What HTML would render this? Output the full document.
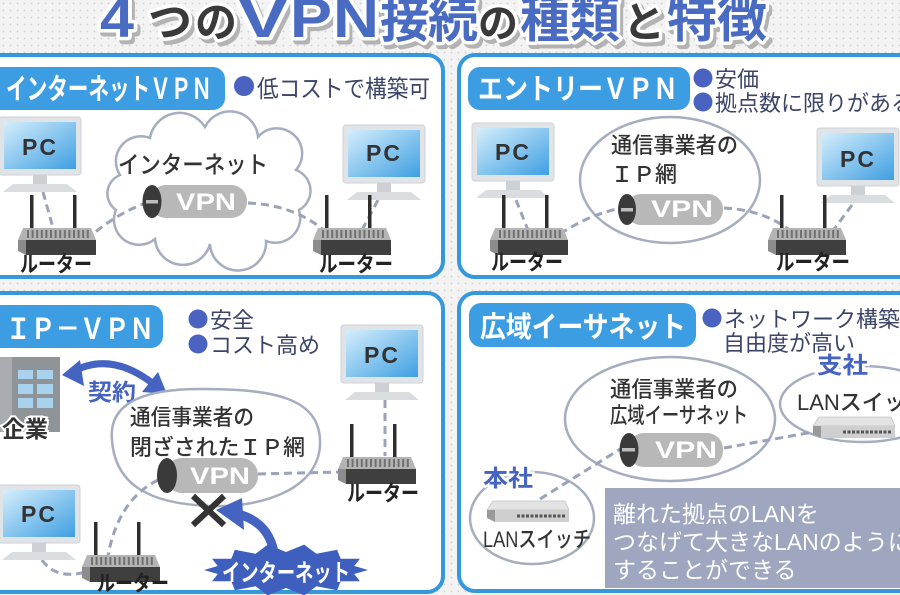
<!DOCTYPE html>
<html><head><meta charset="utf-8"><style>html,body{margin:0;padding:0;background:#f3f3f3}svg{display:block}</style></head>
<body>
<svg width="900" height="595" viewBox="0 0 900 595" xmlns="http://www.w3.org/2000/svg" font-family="'Liberation Sans','Noto Sans CJK JP',sans-serif">
<defs>
 <pattern id="dots" width="7" height="7" patternUnits="userSpaceOnUse"><rect width="7" height="7" fill="#f3f3f3"/><circle cx="3.5" cy="3.5" r="0.9" fill="#cfcfcf"/></pattern>
 <linearGradient id="scr" x1="0" y1="0" x2="1" y2="1"><stop offset="0" stop-color="#d4eefc"/><stop offset="1" stop-color="#3f9fe2"/></linearGradient>
 <g id="pc">
  <rect x="0" y="0" width="82" height="58" rx="3" fill="#e1e4e7" stroke="#cdd1d5"/>
  <rect x="5" y="5" width="72" height="47" fill="url(#scr)"/>
  <rect x="34" y="58" width="14" height="10" fill="#cdd1d5"/>
  <polygon points="14,67 68,67 78,75 4,75" fill="#dadde0"/>
 </g>
 <g id="router">
  <rect x="12" y="-33" width="3.5" height="36" fill="#2e2e2e"/>
  <rect x="55" y="-33" width="3.5" height="36" fill="#2e2e2e"/>
  <polygon points="5,0 73,0 78,12 0,12" fill="#b4b4b4"/>
  <line x1="9" y1="6" x2="71" y2="6" stroke="#707070" stroke-width="8" stroke-dasharray="2 2.6"/>
  <polygon points="0,12 8,12 8,27 0,23" fill="#8c8c8c"/>
  <rect x="8" y="12" width="70" height="15" fill="#3f3f3f"/>
 </g>
 <g id="switch">
  <polygon points="6,0 78,0 82,9 0,9" fill="#e3e3e3" stroke="#c4c4c4" stroke-width="0.8"/>
  <polygon points="0,9 8,9 8,21 0,17" fill="#9a9a9a"/>
  <rect x="8" y="9" width="74" height="12" fill="#cfcfcf"/>
  <line x1="30" y1="15" x2="78" y2="15" stroke="#555" stroke-width="3" stroke-dasharray="3 1.5"/>
 </g>
</defs>

<rect width="900" height="595" fill="url(#dots)"/>

<!-- Title -->
<g font-weight="700" transform="translate(3,4)" fill="#b3b3b3" stroke="#b3b3b3" stroke-width="7" stroke-linejoin="round">
 <text x="100" y="37" font-size="56" textLength="34" lengthAdjust="spacingAndGlyphs">4</text>
 <text x="148" y="37" font-size="44">つ</text>
 <text x="195" y="37" font-size="42">の</text>
 <text x="238" y="37" font-size="56" textLength="50" lengthAdjust="spacingAndGlyphs">V</text>
 <text x="290" y="37" font-size="56" textLength="42" lengthAdjust="spacingAndGlyphs">P</text>
 <text x="333" y="37" font-size="56" textLength="46" lengthAdjust="spacingAndGlyphs">N</text>
 <text x="380" y="37" font-size="50">接</text>
 <text x="428" y="37" font-size="50">続</text>
 <text x="478" y="37" font-size="40">の</text>
 <text x="520" y="37" font-size="50">種</text>
 <text x="570" y="37" font-size="50">類</text>
 <text x="623" y="37" font-size="42">と</text>
 <text x="667" y="37" font-size="50">特</text>
 <text x="717" y="37" font-size="50">徴</text>
</g>
<g font-weight="700" stroke="#ffffff" stroke-width="7" stroke-linejoin="round" paint-order="stroke">
 <text x="100" y="37" font-size="56" textLength="34" lengthAdjust="spacingAndGlyphs" fill="#4a6bc2">4</text>
 <text x="148" y="37" font-size="44" fill="#3a3a3a">つ</text>
 <text x="195" y="37" font-size="42" fill="#3a3a3a">の</text>
 <text x="238" y="37" font-size="56" textLength="50" lengthAdjust="spacingAndGlyphs" fill="#4a6bc2">V</text>
 <text x="290" y="37" font-size="56" textLength="42" lengthAdjust="spacingAndGlyphs" fill="#4a6bc2">P</text>
 <text x="333" y="37" font-size="56" textLength="46" lengthAdjust="spacingAndGlyphs" fill="#4a6bc2">N</text>
 <text x="380" y="37" font-size="50" fill="#4a6bc2">接</text>
 <text x="428" y="37" font-size="50" fill="#4a6bc2">続</text>
 <text x="478" y="37" font-size="40" fill="#3a3a3a">の</text>
 <text x="520" y="37" font-size="50" fill="#4a6bc2">種</text>
 <text x="570" y="37" font-size="50" fill="#4a6bc2">類</text>
 <text x="623" y="37" font-size="42" fill="#3a3a3a">と</text>
 <text x="667" y="37" font-size="50" fill="#4a6bc2">特</text>
 <text x="717" y="37" font-size="50" fill="#4a6bc2">徴</text>
</g>

<!-- Panels -->
<rect x="-20" y="55" width="463" height="222" rx="16" fill="#ffffff" stroke="#3598dc" stroke-width="4"/>
<rect x="459" y="55" width="470" height="222" rx="16" fill="#ffffff" stroke="#3598dc" stroke-width="4"/>
<rect x="-20" y="293" width="463" height="299" rx="16" fill="#ffffff" stroke="#3598dc" stroke-width="4"/>
<rect x="459" y="293" width="470" height="298" rx="16" fill="#ffffff" stroke="#3598dc" stroke-width="4"/>

<!-- ===== Panel 1 ===== -->
<rect x="-20" y="67" width="245" height="43" rx="12" fill="#3d9de3"/>
<text x="6" y="99" font-size="29" font-weight="700" fill="#ffffff" textLength="206" lengthAdjust="spacingAndGlyphs">インターネットＶＰＮ</text>
<circle cx="244" cy="86" r="10" fill="#4a63c0"/>
<text x="257" y="97" font-size="24" fill="#3c4468" textLength="173" lengthAdjust="spacingAndGlyphs">低コストで構築可</text>

<path d="M120 175 A25 25 0 0 1 150 138 A30 30 0 0 1 205 127 A28 28 0 0 1 258 137 A25 25 0 0 1 296 170 A22 22 0 0 1 299 210 A25 25 0 0 1 266 241 A28 28 0 0 1 210 244 A28 28 0 0 1 155 239 A25 25 0 0 1 116 210 A20 20 0 0 1 120 175 Z" fill="#ffffff" stroke="#a6adc0" stroke-width="2.5"/>
<text x="118" y="173" font-size="24" font-weight="500" fill="#333" textLength="150" lengthAdjust="spacingAndGlyphs">インターネット</text>

<g fill="none" stroke="#9ba3ba" stroke-width="3" stroke-dasharray="8 5">
 <path d="M43 192 L53 228"/>
 <path d="M86 240 Q115 214 146 203"/>
 <path d="M248 203 Q295 205 326 232"/>
 <path d="M378 200 L362 230"/>
</g>
<rect x="150" y="185" width="97" height="33" rx="16" fill="#b8b8b8"/>
<ellipse cx="152" cy="201.5" rx="9.5" ry="16.5" fill="#3a3a3a"/>
<rect x="146" y="200" width="12" height="3.5" fill="#bdbdbd"/>
<text x="176" y="210" font-size="24" font-weight="700" fill="#ffffff" textLength="60" lengthAdjust="spacingAndGlyphs">VPN</text>

<use href="#pc" x="-1" y="117"/>
<text x="40" y="155" font-size="23" font-weight="700" fill="#333" text-anchor="middle" letter-spacing="2">PC</text>
<use href="#router" x="18" y="228"/>
<text x="20" y="272" font-size="22" font-weight="700" fill="#222" textLength="72" lengthAdjust="spacingAndGlyphs">ルーター</text>

<use href="#pc" x="343" y="125"/>
<text x="384" y="161" font-size="23" font-weight="700" fill="#333" text-anchor="middle" letter-spacing="2">PC</text>
<use href="#router" x="313" y="228"/>
<text x="319" y="272" font-size="22" font-weight="700" fill="#222" textLength="74" lengthAdjust="spacingAndGlyphs">ルーター</text>

<!-- ===== Panel 2 ===== -->
<rect x="468" y="67" width="222" height="43" rx="12" fill="#3d9de3"/>
<text x="478" y="99" font-size="29" font-weight="700" fill="#ffffff" textLength="200" lengthAdjust="spacingAndGlyphs">エントリーＶＰＮ</text>
<circle cx="703" cy="78" r="9.5" fill="#4a63c0"/>
<text x="715" y="87" font-size="22" fill="#3c4468">安価</text>
<circle cx="703" cy="102" r="9.5" fill="#4a63c0"/>
<text x="715" y="111" font-size="22" fill="#3c4468">拠点数に限りがある</text>

<ellipse cx="670" cy="180" rx="90" ry="63" fill="#ffffff" stroke="#a6adc0" stroke-width="2.5"/>
<text x="611" y="153" font-size="22" font-weight="500" fill="#333" textLength="127" lengthAdjust="spacingAndGlyphs">通信事業者の</text>
<text x="611" y="182" font-size="22" font-weight="500" fill="#333" textLength="66" lengthAdjust="spacingAndGlyphs">ＩＰ網</text>

<g fill="none" stroke="#9ba3ba" stroke-width="3" stroke-dasharray="8 5">
 <path d="M516 200 L528 230"/>
 <path d="M560 234 Q590 214 622 208"/>
 <path d="M724 208 Q765 210 792 232"/>
 <path d="M852 205 L832 232"/>
</g>
<rect x="626" y="194" width="97" height="31" rx="15" fill="#b8b8b8"/>
<ellipse cx="627" cy="209.5" rx="9" ry="15.5" fill="#3a3a3a"/>
<rect x="621" y="208" width="12" height="3.5" fill="#bdbdbd"/>
<text x="651" y="217" font-size="24" font-weight="700" fill="#ffffff" textLength="62" lengthAdjust="spacingAndGlyphs">VPN</text>

<use href="#pc" x="472" y="123"/>
<text x="513" y="160" font-size="23" font-weight="700" fill="#333" text-anchor="middle" letter-spacing="2">PC</text>
<use href="#router" x="490" y="228"/>
<text x="491" y="270" font-size="22" font-weight="700" fill="#222" textLength="72" lengthAdjust="spacingAndGlyphs">ルーター</text>

<use href="#pc" x="817" y="128"/>
<text x="858" y="167" font-size="23" font-weight="700" fill="#333" text-anchor="middle" letter-spacing="2">PC</text>
<use href="#router" x="768" y="228"/>
<text x="776" y="270" font-size="22" font-weight="700" fill="#222" textLength="74" lengthAdjust="spacingAndGlyphs">ルーター</text>

<!-- ===== Panel 3 ===== -->
<rect x="-20" y="305" width="183" height="43" rx="12" fill="#3d9de3"/>
<text x="6" y="339" font-size="29" font-weight="700" fill="#ffffff" textLength="148" lengthAdjust="spacingAndGlyphs">ＩＰ－ＶＰＮ</text>
<circle cx="198" cy="319" r="9.5" fill="#4a63c0"/>
<text x="210" y="328" font-size="22" fill="#3c4468">安全</text>
<circle cx="198" cy="344" r="9.5" fill="#4a63c0"/>
<text x="210" y="353" font-size="22" fill="#3c4468">コスト高め</text>

<!-- building -->
<rect x="0" y="357" width="60" height="75" fill="#8f9499"/>
<rect x="0" y="357" width="12" height="75" fill="#a9adb1"/>
<g fill="#a9d2ee">
 <rect x="18" y="370" width="15" height="9"/><rect x="37" y="370" width="16" height="9"/>
 <rect x="18" y="384" width="15" height="10"/><rect x="37" y="384" width="16" height="10"/>
 <rect x="18" y="398" width="15" height="10"/><rect x="37" y="398" width="16" height="10"/>
</g>
<text x="2" y="437" font-size="23" font-weight="700" fill="#333" stroke="#fff" stroke-width="4" paint-order="stroke" textLength="46" lengthAdjust="spacingAndGlyphs">企業</text>

<!-- contract arrow -->
<path d="M72 372 Q112 350 156 386" fill="none" stroke="#4563c0" stroke-width="7"/>
<polygon points="62,375 80,360 84,386" fill="#4563c0"/>
<polygon points="167,394 142,392 158,372" fill="#4563c0"/>
<text x="88" y="400" font-size="23" font-weight="700" fill="#4563c0" stroke="#fff" stroke-width="4" paint-order="stroke" textLength="48" lengthAdjust="spacingAndGlyphs">契約</text>

<path d="M112 440 C108 400 150 389 200 389 C270 389 322 396 320 445 C318 490 260 508 210 506 C150 504 115 485 112 440 Z" fill="#ffffff" stroke="#a6adc0" stroke-width="2.5"/>
<text x="130" y="425" font-size="22" font-weight="500" fill="#333" textLength="124" lengthAdjust="spacingAndGlyphs">通信事業者の</text>
<text x="130" y="455" font-size="22" font-weight="500" fill="#333" textLength="175" lengthAdjust="spacingAndGlyphs">閉ざされたＩＰ網</text>

<g fill="none" stroke="#9ba3ba" stroke-width="3" stroke-dasharray="8 5">
 <path d="M385 400 L385 456"/>
 <path d="M258 474 L340 472"/>
 <path d="M158 480 Q118 500 108 556"/>
 <path d="M42 560 Q56 580 86 572"/>
</g>
<rect x="165" y="458" width="93" height="35" rx="17" fill="#b8b8b8"/>
<ellipse cx="167" cy="475.5" rx="10" ry="17.5" fill="#3a3a3a"/>
<text x="190" y="484" font-size="24" font-weight="700" fill="#ffffff" textLength="60" lengthAdjust="spacingAndGlyphs">VPN</text>

<!-- X -->
<g stroke="#333" stroke-width="6" stroke-linecap="butt">
 <line x1="193" y1="496" x2="224" y2="525"/>
 <line x1="224" y1="496" x2="193" y2="525"/>
</g>

<!-- internet attack -->
<path d="M274 552 Q268 522 238 514" fill="none" stroke="#4563c0" stroke-width="9"/>
<polygon points="216,510 242,498 244,530" fill="#4563c0"/>
<polygon fill="#3f5fbf" points="368,570 354.2,574 359.9,581.3 340.7,581.2 337.1,590.3 316.4,586.2 304.2,595.4 286,588 267.8,595.4 255.6,586.2 234.9,590.3 231.3,581.2 212.1,581.3 217.8,574 204,570 217.8,566 212.1,558.7 231.3,558.8 234.9,549.7 255.6,553.8 267.8,544.6 286,552 304.2,544.6 316.4,553.8 337.1,549.7 340.7,558.8 359.9,558.7 354.2,566"/>
<text x="222" y="581" font-size="24" font-weight="700" fill="#ffffff" textLength="128" lengthAdjust="spacingAndGlyphs">インターネット</text>

<use href="#pc" x="341" y="325"/>
<text x="382" y="363" font-size="23" font-weight="700" fill="#333" text-anchor="middle" letter-spacing="2">PC</text>
<use href="#router" x="338" y="457"/>
<text x="347" y="501" font-size="22" font-weight="700" fill="#222" textLength="72" lengthAdjust="spacingAndGlyphs">ルーター</text>

<use href="#pc" x="-2" y="485"/>
<text x="39" y="522" font-size="23" font-weight="700" fill="#333" text-anchor="middle" letter-spacing="2">PC</text>
<use href="#router" x="82" y="555"/>
<text x="97" y="591" font-size="22" font-weight="700" fill="#222" textLength="72" lengthAdjust="spacingAndGlyphs">ルーター</text>

<!-- ===== Panel 4 ===== -->
<rect x="469" y="303" width="227" height="44" rx="12" fill="#3d9de3"/>
<text x="480" y="337" font-size="29" font-weight="700" fill="#ffffff" textLength="206" lengthAdjust="spacingAndGlyphs">広域イーサネット</text>
<circle cx="712" cy="318" r="9.5" fill="#4a63c0"/>
<text x="724" y="327" font-size="22" fill="#3c4468">ネットワーク構築の</text>
<text x="723" y="351" font-size="22" fill="#3c4468">自由度が高い</text>

<ellipse cx="670" cy="419" rx="105" ry="62" fill="#ffffff" stroke="#a6adc0" stroke-width="2.5"/>
<ellipse cx="862" cy="404" rx="82" ry="38" fill="#ffffff" stroke="#a6adc0" stroke-width="2.5"/>
<ellipse cx="532" cy="518" rx="62" ry="46" fill="#ffffff" stroke="#a6adc0" stroke-width="2.5"/>

<text x="610" y="397" font-size="22" font-weight="500" fill="#333" textLength="128" lengthAdjust="spacingAndGlyphs">通信事業者の</text>
<text x="610" y="423" font-size="22" font-weight="500" fill="#333" textLength="138" lengthAdjust="spacingAndGlyphs">広域イーサネット</text>

<g fill="none" stroke="#9ba3ba" stroke-width="3" stroke-dasharray="8 5">
 <path d="M540 499 L622 448"/>
 <path d="M724 448 L830 429"/>
</g>
<rect x="628" y="433" width="95" height="34" rx="16" fill="#b8b8b8"/>
<ellipse cx="629" cy="450" rx="9.5" ry="17" fill="#3a3a3a"/>
<rect x="622" y="448" width="13" height="3.5" fill="#bdbdbd"/>
<text x="655" y="458" font-size="24" font-weight="700" fill="#ffffff" textLength="62" lengthAdjust="spacingAndGlyphs">VPN</text>

<text x="817" y="373" font-size="23" font-weight="700" fill="#4563c0" stroke="#fff" stroke-width="5" paint-order="stroke" textLength="51" lengthAdjust="spacingAndGlyphs">支社</text>
<text x="797" y="410" font-size="22" font-weight="500" fill="#333">LANスイッチ</text>
<use href="#switch" x="813" y="417"/>

<text x="483" y="486" font-size="23" font-weight="700" fill="#4563c0" stroke="#fff" stroke-width="5" paint-order="stroke" textLength="50" lengthAdjust="spacingAndGlyphs">本社</text>
<use href="#switch" x="487" y="501"/>
<text x="483" y="547" font-size="22" font-weight="500" fill="#333" textLength="108" lengthAdjust="spacingAndGlyphs">LANスイッチ</text>

<rect x="605" y="488" width="300" height="100" fill="#9ea6c0"/>
<text x="613" y="522" font-size="23" fill="#ffffff">離れた拠点のLANを</text>
<text x="613" y="550" font-size="23" fill="#ffffff">つなげて大きなLANのように</text>
<text x="613" y="578" font-size="23" fill="#ffffff">することができる</text>
</svg>
</body></html>
